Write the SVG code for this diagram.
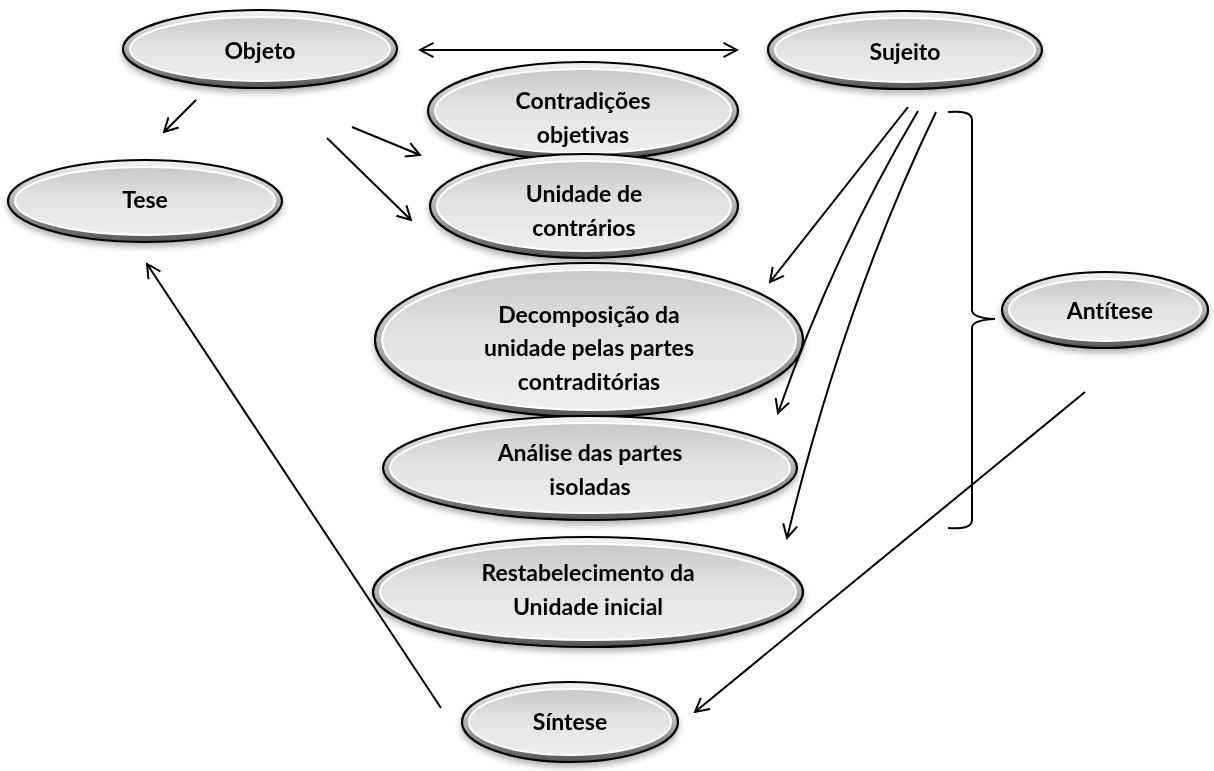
<svg xmlns="http://www.w3.org/2000/svg" width="1214" height="771" viewBox="0 0 1214 771">
  <defs>
    <linearGradient id="rim" x1="0" y1="0" x2="0" y2="1">
      <stop offset="0" stop-color="#f4f4f4"/>
      <stop offset="0.5" stop-color="#b4b4b4"/>
      <stop offset="1" stop-color="#555"/>
    </linearGradient>
    <linearGradient id="face" x1="0" y1="0" x2="0" y2="1">
      <stop offset="0" stop-color="#c8c8c8"/>
      <stop offset="0.45" stop-color="#e2e2e2"/>
      <stop offset="1" stop-color="#efefef"/>
    </linearGradient>
    <filter id="shadow" x="-10%" y="-10%" width="120%" height="140%">
      <feGaussianBlur in="SourceAlpha" stdDeviation="3"/>
      <feOffset dx="0" dy="4" result="b"/>
      <feComponentTransfer><feFuncA type="linear" slope="0.3"/></feComponentTransfer>
      <feMerge><feMergeNode/><feMergeNode in="SourceGraphic"/></feMerge>
    </filter>
    <marker id="arr" viewBox="0 0 20 20" refX="18" refY="10" markerWidth="18" markerHeight="18" markerUnits="userSpaceOnUse" orient="auto-start-reverse">
      <path d="M3,2 L18,10 L3,18" fill="none" stroke="#000" stroke-width="2.2"/>
    </marker>
  </defs>
  <style>
    .outer { fill: url(#rim); stroke: #000; stroke-width: 2.2; }
    .inner { fill: url(#face); stroke: #ffffff; stroke-width: 2; }
    .lbl { font-family: Lato, "Liberation Sans", sans-serif; font-weight: bold; font-size: 23px; fill: #000; text-anchor: middle; font-variant-ligatures: none; }
    .conn { fill: none; stroke: #000; stroke-width: 2; }
  </style>
  <rect width="1214" height="771" fill="#fff"/>

  <!-- connectors -->
  <g id="connectors">
    <line class="conn" x1="420" y1="50" x2="737" y2="50" marker-start="url(#arr)" marker-end="url(#arr)"/>
    <line class="conn" x1="196" y1="100" x2="164" y2="132" marker-end="url(#arr)"/>
    <line class="conn" x1="352" y1="127" x2="420" y2="155" marker-end="url(#arr)"/>
    <line class="conn" x1="327" y1="138" x2="411" y2="220" marker-end="url(#arr)"/>
    <line class="conn" x1="908" y1="107" x2="770" y2="282" marker-end="url(#arr)"/>
    <path class="conn" d="M918,111 Q835,250 778,413" marker-end="url(#arr)"/>
    <path class="conn" d="M936,112 Q845,300 787,538" marker-end="url(#arr)"/>
    <path class="conn" d="M948,112 Q972,110 972,120 L972,310 Q972,318 995,319 M995,319 Q972,320 972,328 L972,520 Q972,530 948,528"/>
    <line class="conn" x1="1085" y1="392" x2="695" y2="712" marker-end="url(#arr)"/>
    <line class="conn" x1="441" y1="708" x2="147" y2="264" marker-end="url(#arr)"/>
  </g>

  <g id="objeto" filter="url(#shadow)">
    <ellipse class="outer" cx="260" cy="49" rx="137" ry="39"/>
    <ellipse class="inner" cx="260" cy="49" rx="130" ry="32"/>
    <text class="lbl" x="260" y="59">Objeto</text>
  </g>
  <g id="sujeito" filter="url(#shadow)">
    <ellipse class="outer" cx="905" cy="50" rx="137" ry="39"/>
    <ellipse class="inner" cx="905" cy="50" rx="130" ry="32"/>
    <text class="lbl" x="905" y="60">Sujeito</text>
  </g>
  <g id="tese" filter="url(#shadow)">
    <ellipse class="outer" cx="145" cy="201" rx="137" ry="41"/>
    <ellipse class="inner" cx="145" cy="201" rx="130" ry="34"/>
    <text class="lbl" x="145" y="208">Tese</text>
  </g>
  <g id="contradicoes" filter="url(#shadow)">
    <ellipse class="outer" cx="583" cy="111" rx="155" ry="49"/>
    <ellipse class="inner" cx="583" cy="111" rx="148" ry="42"/>
    <text class="lbl" x="583" y="109">Contradições</text>
    <text class="lbl" x="583" y="143">objetivas</text>
  </g>
  <g id="unidade" filter="url(#shadow)">
    <ellipse class="outer" cx="584" cy="206" rx="154" ry="52"/>
    <ellipse class="inner" cx="584" cy="206" rx="147" ry="45"/>
    <text class="lbl" x="584" y="202">Unidade de</text>
    <text class="lbl" x="584" y="236">contrários</text>
  </g>
  <g id="decomposicao" filter="url(#shadow)">
    <ellipse class="outer" cx="589" cy="340" rx="214" ry="77"/>
    <ellipse class="inner" cx="589" cy="340" rx="207" ry="70"/>
    <text class="lbl" x="589" y="323">Decomposição da</text>
    <text class="lbl" x="589" y="356">unidade pelas partes</text>
    <text class="lbl" x="589" y="390">contraditórias</text>
  </g>
  <g id="analise" filter="url(#shadow)">
    <ellipse class="outer" cx="590" cy="468" rx="207" ry="52"/>
    <ellipse class="inner" cx="590" cy="468" rx="200" ry="45"/>
    <text class="lbl" x="590" y="461">Análise das partes</text>
    <text class="lbl" x="590" y="495">isoladas</text>
  </g>
  <g id="restabelecimento" filter="url(#shadow)">
    <ellipse class="outer" cx="588" cy="592" rx="215" ry="55"/>
    <ellipse class="inner" cx="588" cy="592" rx="208" ry="48"/>
    <text class="lbl" x="588" y="581">Restabelecimento da</text>
    <text class="lbl" x="588" y="615">Unidade inicial</text>
  </g>
  <g id="antitese" filter="url(#shadow)">
    <ellipse class="outer" cx="1105" cy="310" rx="103" ry="38"/>
    <ellipse class="inner" cx="1105" cy="310" rx="96" ry="31"/>
    <text class="lbl" x="1110" y="319">Antítese</text>
  </g>
  <g id="sintese" filter="url(#shadow)">
    <ellipse class="outer" cx="570" cy="722" rx="108" ry="40"/>
    <ellipse class="inner" cx="570" cy="722" rx="101" ry="33"/>
    <text class="lbl" x="570" y="730">Síntese</text>
  </g>
</svg>
